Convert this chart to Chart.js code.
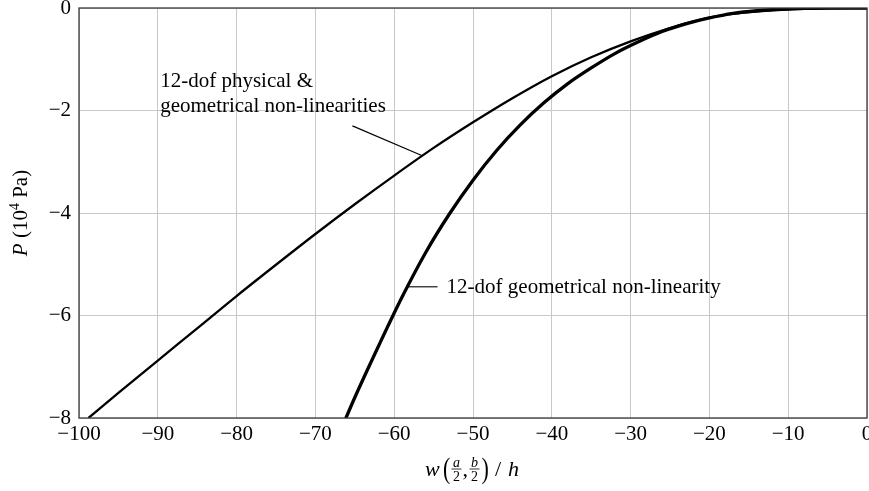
<!DOCTYPE html>
<html>
<head>
<meta charset="utf-8">
<script src="https://cdn.jsdelivr.net/npm/chart.js@4/dist/chart.umd.min.js"></script>
<style>
html,body{margin:0;padding:0;background:#fff;overflow:hidden}
#wrap{width:869px;height:491px}
</style>
</head>
<body>
<div id="wrap"><canvas id="c" width="869" height="491"></canvas></div>
<script>
/* data */
const xTickValues=[-100,-90,-80,-70,-60,-50,-40,-30,-20,-10,0];
const yTickValues=[-8,-6,-4,-2,0];
const physX=[-98.8,-95,-90,-85,-80,-75,-70,-65,-60,-55,-50,-45,-40,-35,-30,-25,-20,-15,-10,-5,0];
const physP=[-8.0,-7.51,-6.88,-6.25,-5.62,-5.01,-4.41,-3.83,-3.27,-2.73,-2.23,-1.76,-1.33,-0.96,-0.65,-0.39,-0.185,-0.08,-0.03,-0.008,0];
const geomX=[-66.4,-65,-62,-59,-56,-53,-50,-47,-44,-41,-38,-35,-32,-29,-26,-23,-20,-17,-14,-11,-8,-5,0];
const geomP=[-8.1,-7.6,-6.60,-5.64,-4.77,-4.02,-3.36,-2.78,-2.28,-1.85,-1.48,-1.17,-0.89,-0.66,-0.46,-0.31,-0.195,-0.106,-0.054,-0.024,-0.009,-0.003,0];
const physLabel=['12-dof physical &','geometrical non-linearities'];
const geomLabel='12-dof geometrical non-linearity';

const SERIF='"Liberation Serif","DejaVu Serif",serif';
const minus=v=>v<0?'\u2212'+Math.abs(v):String(v);
const pts=(xs,ys)=>xs.map((x,i)=>({x:x,y:ys[i]}));

// annotation placement, in data units
const notes={
  phys:{text:[-89.7,-1.54],lineGap:25,from:[-65.3,-2.30],to:[-56.5,-2.88]},
  geom:{text:[-53.35,-5.555],from:[-54.5,-5.44],to:[-58.3,-5.44]}
};

const decor={
  id:'decor',
  afterDatasetsDraw(chart){
    const ctx=chart.ctx,a=chart.chartArea,sx=chart.scales.x,sy=chart.scales.y;
    const px=v=>sx.getPixelForValue(v),py=v=>sy.getPixelForValue(v);
    ctx.save();
    // frame
    ctx.strokeStyle='#3a3a3a';ctx.lineWidth=1.3;
    ctx.strokeRect(a.left,a.top,a.right-a.left,a.bottom-a.top);
    // leader lines
    ctx.strokeStyle='#000';ctx.lineWidth=1.1;
    [notes.phys,notes.geom].forEach(n=>{
      ctx.beginPath();ctx.moveTo(px(n.from[0]),py(n.from[1]));ctx.lineTo(px(n.to[0]),py(n.to[1]));ctx.stroke();
    });
    // labels
    ctx.fillStyle='#000';ctx.font='21px '+SERIF;ctx.textBaseline='alphabetic';ctx.textAlign='left';
    const t1x=px(notes.phys.text[0]),t1y=py(notes.phys.text[1]);
    physLabel.forEach((s,i)=>ctx.fillText(s,t1x,t1y+i*notes.phys.lineGap));
    ctx.fillText(geomLabel,px(notes.geom.text[0]),py(notes.geom.text[1]));

    // x axis title: w (a/2, b/2) / h
    const cx=(a.left+a.right)/2,base=476,bar=469;
    ctx.font='italic 22px '+SERIF;ctx.fillText('w',cx-48,base);
    ctx.save();ctx.translate(cx-30,470);ctx.scale(1,1.3);ctx.font='22px '+SERIF;ctx.fillText('(',0,6);ctx.restore();
    const frac=(num,c)=>{
      ctx.font='italic 14px '+SERIF;ctx.textAlign='center';
      ctx.fillText(num,c,bar-2.5);
      ctx.font='14px '+SERIF;ctx.fillText('2',c,bar+11.5);
      ctx.lineWidth=0.8;ctx.beginPath();ctx.moveTo(c-5,bar);ctx.lineTo(c+5,bar);ctx.stroke();
      ctx.textAlign='left';
    };
    frac('a',cx-16.5);
    ctx.font='22px '+SERIF;ctx.fillText(',',cx-10.5,base);
    frac('b',cx+1.5);
    ctx.save();ctx.translate(cx+8.5,470);ctx.scale(1,1.3);ctx.font='22px '+SERIF;ctx.fillText(')',0,6);ctx.restore();
    ctx.font='22px '+SERIF;ctx.fillText('/',cx+22,base);
    ctx.font='italic 22px '+SERIF;ctx.fillText('h',cx+35,base);

    // y axis title: P (10^4 Pa)
    ctx.save();
    ctx.translate(27,(a.top+a.bottom)/2);ctx.rotate(-Math.PI/2);
    const parts=[['P','italic 21px',0],[' (10','21px',0],['4','14px',-8],[' Pa)','21px',0]];
    let w=0;parts.forEach(p=>{ctx.font=p[1]+' '+SERIF;w+=ctx.measureText(p[0]).width;});
    let x=-w/2;
    parts.forEach(p=>{ctx.font=p[1]+' '+SERIF;ctx.fillText(p[0],x,p[2]);x+=ctx.measureText(p[0]).width;});
    ctx.restore();
    ctx.restore();
  }
};

new Chart(document.getElementById('c'),{
  type:'scatter',
  data:{datasets:[
    {label:'12-dof physical & geometrical non-linearities',data:pts(physX,physP),showLine:true,borderColor:'#000',borderWidth:2.3,pointRadius:0,cubicInterpolationMode:'monotone'},
    {label:'12-dof geometrical non-linearity',data:pts(geomX,geomP),showLine:true,borderColor:'#000',borderWidth:3.3,pointRadius:0,cubicInterpolationMode:'monotone'}
  ]},
  options:{
    responsive:false,animation:false,devicePixelRatio:1,
    layout:{padding:{top:8,right:2,left:0,bottom:0}},
    plugins:{legend:{display:false},tooltip:{enabled:false}},
    scales:{
      x:{type:'linear',min:-100,max:0,
        afterBuildTicks:s=>{s.ticks=xTickValues.map(v=>({value:v}));},
        afterFit:s=>{s.height=73;s.paddingLeft=0;s.paddingRight=0;},
        ticks:{color:'#000',font:{family:SERIF,size:21},padding:4,maxRotation:0,autoSkip:false,callback:v=>minus(v)},
        grid:{color:'#c8c8c8',lineWidth:1,drawTicks:false},border:{display:false}},
      y:{type:'linear',min:-8,max:0,
        afterBuildTicks:s=>{s.ticks=yTickValues.map(v=>({value:v}));},
        afterFit:s=>{s.width=79;s.paddingTop=0;s.paddingBottom=0;},
        ticks:{color:'#000',font:{family:SERIF,size:21},padding:8,autoSkip:false,callback:v=>minus(v)},
        grid:{color:'#c8c8c8',lineWidth:1,drawTicks:false},border:{display:false}}
    }
  },
  plugins:[decor]
});
</script>
</body>
</html>
